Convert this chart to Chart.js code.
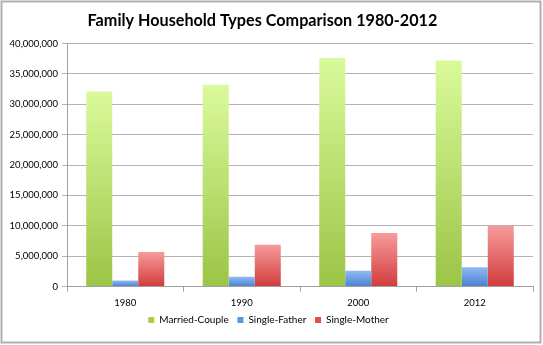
<!DOCTYPE html>
<html>
<head>
<meta charset="utf-8">
<script src="https://cdn.jsdelivr.net/npm/chart.js@4/dist/chart.umd.min.js"></script>
<style>
html,body{margin:0;padding:0;background:#fff;}
#wrap{position:relative;width:543px;height:345px;}
</style>
</head>
<body>
<div id="wrap"><canvas id="c" width="543" height="345"></canvas></div>
<script>
const categories = ['1980', '1990', '2000', '2012'];
const marriedCouple = [32100000, 33200000, 37600000, 37200000];
const singleFather = [1000000, 1600000, 2600000, 3200000];
const singleMother = [5700000, 6900000, 8800000, 10000000];
const seriesNames = ['Married-Couple', 'Single-Father', 'Single-Mother'];
const yTicks = [0, 5000000, 10000000, 15000000, 20000000, 25000000, 30000000, 35000000, 40000000];

const palettes = [
  {top: '#dafa9b', bottom: '#9cc446', solid: '#a6cf50'},
  {top: '#8ebbf3', bottom: '#4a80d2', solid: '#5b93e0'},
  {top: '#f79b9b', bottom: '#d13c3c', solid: '#e05252'}
];

function barFill(idx) {
  return function(ctx) {
    const p = palettes[idx];
    const chart = ctx.chart;
    if (!chart.chartArea || ctx.type !== 'data' || !chart.scales.y) return p.solid;
    const y = chart.scales.y;
    const v = ctx.raw;
    const top = y.getPixelForValue(v);
    const bottom = y.getPixelForValue(0);
    if (!isFinite(top) || !isFinite(bottom) || bottom - top < 1) return p.solid;
    const g = chart.ctx.createLinearGradient(0, top, 0, bottom);
    g.addColorStop(0, p.top);
    g.addColorStop(1, p.bottom);
    return g;
  };
}

const frame = {
  id: 'frame',
  afterDraw(chart) {
    const c = chart.ctx;
    c.save();
    c.strokeStyle = '#b0b0b0';
    c.lineWidth = 2;
    c.strokeRect(1.5, 1.5, 539, 341);
    c.restore();
  }
};

const fontFam = 'Lato, "Open Sans", sans-serif';
const gapAfter = '\u2003\u2009';

new Chart(document.getElementById('c'), {
  type: 'bar',
  data: {
    labels: categories,
    datasets: [
      {label: seriesNames[0], data: marriedCouple, backgroundColor: barFill(0)},
      {label: seriesNames[1], data: singleFather, backgroundColor: barFill(1)},
      {label: seriesNames[2], data: singleMother, backgroundColor: barFill(2)}
    ].map(d => Object.assign(d, {categoryPercentage: 0.67, barPercentage: 1.0, borderWidth: 0}))
  },
  options: {
    responsive: false,
    animation: false,
    devicePixelRatio: 1,
    layout: {padding: {left: 4, right: 10, top: 8, bottom: 10}},
    plugins: {
      title: {
        display: true,
        text: 'Family Household Types Comparison 1980-2012\u2003',
        color: '#000',
        font: {family: fontFam, size: 16.2, weight: 'bold'},
        padding: {top: 3, bottom: 13}
      },
      legend: {
        position: 'bottom',
        labels: {
          boxWidth: 6, boxHeight: 6,
          color: '#000',
          font: {family: fontFam, size: 10},
          padding: 0,
          generateLabels(chart) {
            const n = chart.data.datasets.length;
            return chart.data.datasets.map((d, i) => ({
              text: d.label + (i < n - 1 ? gapAfter : ''), fillStyle: palettes[i].solid, strokeStyle: palettes[i].solid,
              lineWidth: 0, hidden: false, datasetIndex: i, fontColor: '#000'
            }));
          }
        }
      },
      tooltip: {enabled: false}
    },
    scales: {
      x: {
        offset: true,
        grid: {display: true, offset: true, drawOnChartArea: false, drawTicks: true, tickLength: 5, color: '#a0a0a0'},
        border: {display: true, color: '#a0a0a0'},
        ticks: {color: '#000', font: {family: fontFam, size: 9.5}, padding: 6}
      },
      y: {
        min: 0, max: 40000000,
        afterBuildTicks(scale) { scale.ticks = yTicks.map(v => ({value: v})); },
        afterFit(scale) { scale.width = 63; },
        grid: {color: '#b4b4b4', drawTicks: true, tickLength: 5},
        border: {display: true, color: '#a0a0a0'},
        ticks: {
          color: '#000', font: {family: fontFam, size: 9.5}, padding: 4,
          callback: v => v.toLocaleString('en-US')
        }
      }
    }
  },
  plugins: [frame]
});
</script>
</body>
</html>
